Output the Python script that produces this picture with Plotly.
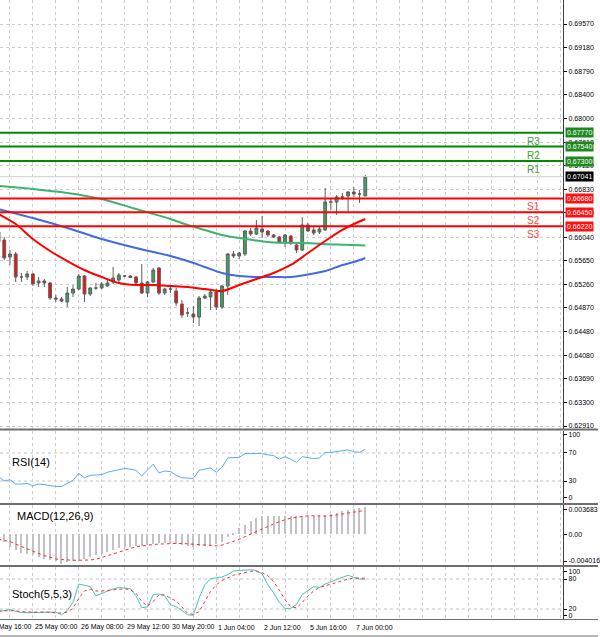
import plotly.graph_objects as go

# ---------------- data ----------------
bars = list(range(65))
opens = [0.66124, 0.65992, 0.65710, 0.65760, 0.65379, 0.65379, 0.65429, 0.65280, 0.65313, 0.65280,
         0.65031, 0.65014, 0.64965, 0.65114, 0.65180, 0.65395, 0.65097, 0.65197, 0.65197, 0.65230,
         0.65296, 0.65329, 0.65395, 0.65395, 0.65379, 0.65280, 0.65114, 0.65296, 0.65528, 0.65114,
         0.65180, 0.65147, 0.64932, 0.64782, 0.64766, 0.64716, 0.65031, 0.65048, 0.65130, 0.64882,
         0.65230, 0.65760, 0.65727, 0.65760, 0.66141, 0.66091, 0.66174, 0.66141, 0.66075, 0.66042,
         0.65942, 0.66058, 0.65909, 0.65826, 0.66241, 0.66158, 0.66124, 0.66158, 0.66621, 0.66621,
         0.66704, 0.66721, 0.66787, 0.66754, 0.66721]
highs = [0.66174, 0.66042, 0.65826, 0.65793, 0.65445, 0.65478, 0.65445, 0.65379, 0.65346, 0.65296,
         0.65081, 0.65048, 0.65213, 0.65246, 0.65429, 0.65412, 0.65213, 0.65280, 0.65296, 0.65362,
         0.65545, 0.65445, 0.65412, 0.65412, 0.65395, 0.65594, 0.65313, 0.65528, 0.65545, 0.65197,
         0.65230, 0.65197, 0.64998, 0.64865, 0.64899, 0.65064, 0.65097, 0.65164, 0.65180, 0.65246,
         0.65776, 0.65810, 0.65793, 0.66158, 0.66191, 0.66323, 0.66390, 0.66158, 0.66091, 0.66058,
         0.66091, 0.66075, 0.65926, 0.66373, 0.66274, 0.66224, 0.66224, 0.66853, 0.66688, 0.66737,
         0.66771, 0.66804, 0.66870, 0.66820, 0.67069]
lows = [0.65926, 0.65661, 0.65578, 0.65296, 0.65296, 0.65329, 0.65230, 0.65213, 0.65213, 0.64998,
        0.64965, 0.64965, 0.64882, 0.65048, 0.65164, 0.64965, 0.65064, 0.65164, 0.65180, 0.65213,
        0.65263, 0.65296, 0.65379, 0.65362, 0.65263, 0.65097, 0.65048, 0.65280, 0.65081, 0.65081,
        0.65114, 0.64899, 0.64700, 0.64716, 0.64617, 0.64567, 0.65014, 0.64832, 0.64832, 0.64849,
        0.65081, 0.65694, 0.65677, 0.65727, 0.66058, 0.66075, 0.66025, 0.66042, 0.66025, 0.65942,
        0.65876, 0.65909, 0.65776, 0.65810, 0.66124, 0.66075, 0.66091, 0.66141, 0.66489, 0.66406,
        0.66655, 0.66456, 0.66704, 0.66605, 0.66721]
closes = [0.65959, 0.65694, 0.65760, 0.65379, 0.65379, 0.65429, 0.65263, 0.65313, 0.65280, 0.65031,
          0.65014, 0.64981, 0.65114, 0.65180, 0.65395, 0.65097, 0.65197, 0.65197, 0.65263, 0.65280,
          0.65362, 0.65412, 0.65395, 0.65371, 0.65280, 0.65114, 0.65296, 0.65495, 0.65114, 0.65180,
          0.65180, 0.64948, 0.64749, 0.64782, 0.64716, 0.65031, 0.65064, 0.65130, 0.64882, 0.65230,
          0.65760, 0.65727, 0.65776, 0.66141, 0.66091, 0.66191, 0.66124, 0.66075, 0.66042, 0.65959,
          0.66075, 0.65942, 0.65826, 0.66241, 0.66141, 0.66108, 0.66174, 0.66621, 0.66621, 0.66704,
          0.66704, 0.66787, 0.66754, 0.66754, 0.67041]

ma_red_x = [0, 3, 6, 9, 12, 15, 18, 21, 24, 27, 30, 33, 36, 39, 42, 45, 48, 51, 54, 57, 60, 62, 64]
ma_red_y = [0.66423, 0.66257, 0.66008, 0.65810, 0.65644, 0.65495, 0.65379, 0.65280, 0.65246, 0.65246,
            0.65230, 0.65213, 0.65180, 0.65147, 0.65246, 0.65346, 0.65445, 0.65578, 0.65776, 0.65975,
            0.66158, 0.66257, 0.66340]
ma_blue_x = [0, 6, 12, 18, 24, 30, 33, 36, 39, 42, 45, 48, 51, 54, 57, 60, 62, 64]
ma_blue_y = [0.66505, 0.66356, 0.66191, 0.66008, 0.65859, 0.65727, 0.65644, 0.65545, 0.65445, 0.65395,
             0.65379, 0.65379, 0.65379, 0.65420, 0.65478, 0.65578, 0.65628, 0.65694]
ma_green_x = [0, 6, 12, 18, 24, 30, 33, 36, 39, 42, 45, 48, 53, 59, 64]
ma_green_y = [0.66887, 0.66837, 0.66771, 0.66671, 0.66505, 0.66340, 0.66241, 0.66158, 0.66075, 0.66025,
              0.65984, 0.65951, 0.65942, 0.65917, 0.65901]

level_names = ["R3", "R2", "R1", "S1", "S2", "S3"]
level_values = [0.67770, 0.67540, 0.67300, 0.66680, 0.66450, 0.66220]
current_price = 0.67041

price_ticks = [0.69570, 0.69180, 0.68790, 0.68400, 0.68000, 0.67610, 0.67220, 0.66830, 0.66440,
               0.66040, 0.65650, 0.65260, 0.64870, 0.64480, 0.64080, 0.63690, 0.63300, 0.62910]

rsi = [36.3, 30.1, 31.9, 25.7, 25.7, 26.6, 23.0, 25.7, 24.8, 23.0,
       22.2, 22.2, 26.6, 31.0, 40.8, 34.6, 38.1, 38.1, 39.0, 42.5,
       44.3, 47.0, 47.9, 47.0, 45.2, 37.2, 46.1, 54.1, 41.7, 44.3,
       43.4, 38.1, 34.6, 34.6, 33.7, 45.2, 47.0, 48.7, 42.5, 49.6,
       62.9, 62.9, 63.8, 69.1, 69.1, 70.0, 69.1, 67.3, 66.5, 61.1,
       64.7, 61.1, 56.7, 64.7, 62.9, 62.0, 62.9, 70.9, 70.9, 71.8,
       72.7, 74.4, 71.8, 70.9, 75.3]

macd_main = [-0.00068, -0.00100, -0.00168, -0.00214, -0.00246, -0.00259, -0.00282, -0.00305, -0.00328, -0.00341,
             -0.00364, -0.00396, -0.00378, -0.00359, -0.00341, -0.00328, -0.00305, -0.00282, -0.00259, -0.00237,
             -0.00214, -0.00191, -0.00177, -0.00168, -0.00159, -0.00155, -0.00146, -0.00132, -0.00123, -0.00123,
             -0.00123, -0.00132, -0.00146, -0.00159, -0.00168, -0.00159, -0.00155, -0.00146, -0.00132, -0.00100,
             -0.00041, 0.00005, 0.00082, 0.00127, 0.00173, 0.00218, 0.00241, 0.00250, 0.00250, 0.00241,
             0.00250, 0.00241, 0.00250, 0.00250, 0.00241, 0.00241, 0.00250, 0.00264, 0.00278, 0.00287,
             0.00309, 0.00323, 0.00341, 0.00355, 0.00368]
macd_signal = [-0.00068, -0.00077, -0.00096, -0.00132, -0.00168, -0.00196, -0.00228, -0.00259, -0.00287, -0.00309,
               -0.00332, -0.00341, -0.00350, -0.00350, -0.00350, -0.00350, -0.00346, -0.00337, -0.00314, -0.00287,
               -0.00259, -0.00237, -0.00214, -0.00191, -0.00168, -0.00159, -0.00146, -0.00137, -0.00132, -0.00127,
               -0.00123, -0.00123, -0.00123, -0.00127, -0.00132, -0.00137, -0.00146, -0.00150, -0.00155, -0.00146,
               -0.00123, -0.00100, -0.00068, -0.00032, 0.00000, 0.00036, 0.00068, 0.00105, 0.00141, 0.00173,
               0.00196, 0.00218, 0.00232, 0.00241, 0.00250, 0.00250, 0.00246, 0.00246, 0.00250, 0.00259,
               0.00273, 0.00287, 0.00300, 0.00309, 0.00323]

stoch_main = [14.6, 17.2, 19.0, 15.5, 12.8, 12.8, 12.8, 12.8, 13.7, 13.7,
              13.7, 8.4, 17.2, 33.1, 70.0, 67.4, 64.8, 46.3, 50.7, 56.0,
              60.4, 63.0, 62.1, 60.4, 46.3, 22.5, 24.3, 48.9, 49.8, 46.3,
              28.7, 24.3, 17.2, 8.4, 7.5, 41.9, 68.3, 80.6, 82.3, 84.1,
              88.5, 96.0, 97.0, 98.5, 98.5, 97.0, 90.3, 68.3, 52.4, 33.1,
              20.8, 21.6, 28.7, 48.9, 57.7, 64.8, 63.0, 70.0, 74.4, 78.8,
              84.1, 87.6, 83.2, 79.7, 79.7]
stoch_signal = [16.4, 16.4, 16.4, 16.4, 14.6, 13.7, 13.7, 13.7, 13.7, 13.7,
                12.0, 12.0, 13.7, 21.6, 41.0, 56.0, 59.5, 56.0, 56.0, 56.8,
                57.7, 59.5, 60.4, 58.6, 51.5, 34.8, 26.0, 34.8, 48.9, 48.0,
                41.0, 35.7, 24.3, 11.1, 9.3, 14.6, 34.8, 55.1, 68.3, 77.1,
                82.3, 87.6, 90.3, 93.0, 95.5, 94.7, 93.0, 86.8, 74.4, 57.7,
                38.4, 24.3, 22.5, 33.1, 46.3, 56.0, 63.0, 66.5, 70.0, 73.6,
                77.1, 79.7, 82.3, 82.3, 81.5]

time_label_bars = [-2, 6, 14, 22, 30, 38, 46, 54, 62]
time_labels = ["24 May 16:00", "25 May 00:00", "26 May 08:00", "29 May 12:00", "30 May 20:00",
               "1 Jun 04:00", "2 Jun 12:00", "5 Jun 16:00", "7 Jun 00:00"]

# ---------------- layout helpers ----------------
W, H = 600, 637
X_RANGE = [0.26, 98.52]
X_END = 565 / W
FONT = "Liberation Sans, Arial, sans-serif"
GRID = "#cdcdcd"


def dom(top_px, bot_px):
    return [1 - bot_px / H, 1 - top_px / H]


def py(px):
    return 1 - px / H


def bar_to_paper(b):
    return X_END * (b - X_RANGE[0]) / (X_RANGE[1] - X_RANGE[0])


fig = go.Figure()

fig.add_trace(go.Candlestick(
    x=bars, open=opens, high=highs, low=lows, close=closes, xaxis="x", yaxis="y",
    increasing=dict(fillcolor="#3aa564", line=dict(color="#5e5e5e", width=1)),
    decreasing=dict(fillcolor="#f01010", line=dict(color="#5e5e5e", width=1)),
    whiskerwidth=0, hoverinfo="skip"))

for xs, ys, col in [(ma_green_x, ma_green_y, "#3cb371"),
                    (ma_blue_x, ma_blue_y, "#4169e1"),
                    (ma_red_x, ma_red_y, "#ff0000")]:
    fig.add_trace(go.Scatter(x=xs, y=ys, mode="lines", xaxis="x", yaxis="y",
                             line=dict(color=col, width=2, shape="spline", smoothing=0.8),
                             hoverinfo="skip"))

fig.add_trace(go.Scatter(x=bars, y=rsi, mode="lines", xaxis="x2", yaxis="y2",
                         line=dict(color="#5aa8f5", width=1), hoverinfo="skip"))

fig.add_trace(go.Bar(x=bars, y=macd_main, xaxis="x3", yaxis="y3", width=0.2,
                     marker=dict(color="#c2c2c2", line=dict(width=0)), hoverinfo="skip"))
fig.add_trace(go.Scatter(x=bars, y=macd_signal, mode="lines", xaxis="x3", yaxis="y3",
                         line=dict(color="#ff2a2a", width=1, dash="dot"), hoverinfo="skip"))

fig.add_trace(go.Scatter(x=bars, y=stoch_main, mode="lines", xaxis="x4", yaxis="y4",
                         line=dict(color="#40c8b8", width=1), hoverinfo="skip"))
fig.add_trace(go.Scatter(x=bars, y=stoch_signal, mode="lines", xaxis="x4", yaxis="y4",
                         line=dict(color="#ff3030", width=1, dash="dot"), hoverinfo="skip"))

xcommon = dict(domain=[0, X_END], range=X_RANGE, tickmode="linear", tick0=6, dtick=4,
               showticklabels=False, showgrid=True, gridcolor=GRID, griddash="3px,3px",
               gridwidth=1, zeroline=False, ticks="", showline=False, fixedrange=True)
ycommon = dict(side="right", showline=True, linecolor="#3c3c3c", linewidth=1,
               ticks="outside", ticklen=3, tickcolor="#000000", zeroline=False,
               tickfont=dict(family=FONT, size=7, color="#000000"), fixedrange=True)

fig.update_layout(
    width=W, height=H, margin=dict(l=0, r=0, t=0, b=0),
    paper_bgcolor="white", plot_bgcolor="white", showlegend=False,
    font=dict(family=FONT),
    xaxis=dict(**xcommon, anchor="y", rangeslider=dict(visible=False)),
    xaxis2=dict(**xcommon, anchor="y2", matches="x"),
    xaxis3=dict(**xcommon, anchor="y3", matches="x"),
    xaxis4=dict(**xcommon, anchor="y4", matches="x"),
    yaxis=dict(**ycommon, domain=dom(0, 429), anchor="x", range=[0.62861, 0.69968],
               tickvals=price_ticks, ticktext=[f"{v:.5f}" for v in price_ticks],
               showgrid=True, gridcolor=GRID, griddash="3px,3px"),
    yaxis2=dict(**ycommon, domain=dom(431, 503), anchor="x2", range=[-1.4, 101.4],
                tickvals=[95.7, 70, 30, 7.1], ticktext=["100", "70", "30", "0"], showgrid=False),
    yaxis3=dict(**ycommon, domain=dom(505, 565), anchor="x3", range=[-0.00414, 0.00395],
                tickvals=[0.00328, 0.0, -0.0036], ticktext=["0.003683", "0.00", "-0.004016"],
                showgrid=False),
    yaxis4=dict(**ycommon, domain=dom(567, 619), anchor="x4", range=[0, 104],
                tickvals=[94.7, 80, 20, 6.7], ticktext=["100", "80", "20", "0"], showgrid=False),
    bargap=0,
)

shapes = []
# indicator level lines
for yref, val in [("y2", 70), ("y2", 30), ("y4", 80), ("y4", 20)]:
    xr = "x2 domain" if yref == "y2" else "x4 domain"
    shapes.append(dict(type="line", xref=xr, yref=yref, x0=0, x1=1, y0=val, y1=val,
                       line=dict(color="#c4c4c4", width=1, dash="3px,3px"), layer="below"))
# current price line
shapes.append(dict(type="line", xref="x domain", yref="y", x0=0, x1=1, y0=current_price,
                   y1=current_price, line=dict(color="#cfcfcf", width=1)))
# pivot lines
for name, val in zip(level_names, level_values):
    col = "#008a00" if name.startswith("R") else "#ff0000"
    shapes.append(dict(type="line", xref="x domain", yref="y", x0=0, x1=1, y0=val, y1=val,
                       line=dict(color=col, width=2)))
# panel separators
for px, w in [(429.5, 2), (504, 2), (566, 2), (619.5, 1), (636, 1)]:
    shapes.append(dict(type="line", xref="paper", yref="paper", x0=0, x1=1, y0=py(px), y1=py(px),
                       line=dict(color="#6e6e6e", width=w)))
fig.update_layout(shapes=shapes)

ann = []
for name, val in zip(level_names, level_values):
    txtcol = "#4f9d3a" if name.startswith("R") else "#ff4a4a"
    boxcol = "#1e8a1e" if name.startswith("R") else "#ff1010"
    ann.append(dict(xref="paper", yref="y", x=527 / W, y=val, xanchor="left", yanchor="top",
                    yshift=-1, text=name, showarrow=False,
                    font=dict(family=FONT, size=10, color=txtcol)))
    ann.append(dict(xref="paper", yref="y", x=567 / W, y=val, xanchor="left", yanchor="middle",
                    text=f"{val:.5f}", showarrow=False, bgcolor=boxcol, borderpad=1,
                    font=dict(family=FONT, size=7, color="white")))
ann.append(dict(xref="paper", yref="y", x=567 / W, y=current_price, xanchor="left",
                yanchor="middle", text=f"{current_price:.5f}", showarrow=False,
                bgcolor="#000000", borderpad=1, font=dict(family=FONT, size=7, color="white")))

for txt, px, pyy in [("RSI(14)", 10, 462), ("MACD(12,26,9)", 15, 516), ("Stoch(5,5,3)", 10, 594)]:
    ann.append(dict(xref="paper", yref="paper", x=px / W, y=py(pyy), xanchor="left",
                    yanchor="middle", text=txt, showarrow=False,
                    font=dict(family=FONT, size=11, color="#000000")))

for b, txt in zip(time_label_bars, time_labels):
    ann.append(dict(xref="paper", yref="paper", x=bar_to_paper(b), y=py(627), xanchor="left",
                    yanchor="middle", text=txt, showarrow=False,
                    font=dict(family=FONT, size=7, color="#000000")))

fig.update_layout(annotations=ann)

fig.write_html("out.html", config={"displayModeBar": False},
               post_script="document.body.style.margin='0';document.body.style.overflow='hidden';")
